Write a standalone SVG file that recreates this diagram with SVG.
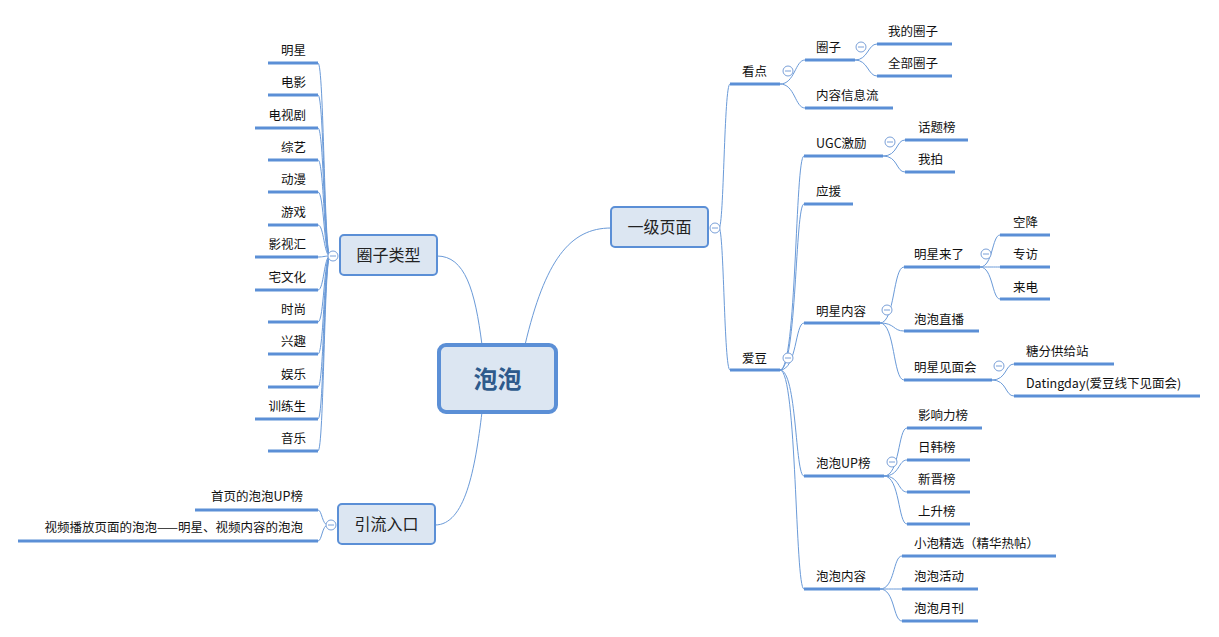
<svg xmlns="http://www.w3.org/2000/svg" width="1219" height="637" viewBox="0 0 1219 637">
<style>
text{font-family:"Microsoft YaHei","Noto Sans CJK SC",sans-serif;font-size:12.5px;fill:#111}
.ul{stroke:#5b8fd6;stroke-width:3;fill:none}
.c{stroke:#6a9ad8;stroke-width:1;fill:none}
.box{fill:#dce6f2;stroke:#5b8fd6;stroke-width:2}
.bt{font-size:16px;fill:#222;text-anchor:middle}
.col circle{fill:#fff;stroke:#7aa0d8;stroke-width:1}
.col line{stroke:#7aa0d8;stroke-width:1}
.r{text-anchor:end}
</style>
<rect width="1219" height="637" fill="#fff"/>
<g id="connectors">
<path class="c" d="M525,345 C545,260 570,228 611,228"/>
<path class="c" d="M482,345 C475,290 465,256 437,256"/>
<path class="c" d="M482,412 C475,470 465,525 435,525"/>
<path class="c" d="M330,256 C324,256 324,63 318,63 M330,256 C324,256 324,95 318,95 M330,256 C324,256 324,128 318,128 M330,256 C324,256 324,160 318,160 M330,256 C324,256 324,192 318,192 M330,256 C324,256 324,225 318,225 M330,256 C324,256 324,257 318,257 M330,256 C324,256 324,290 318,290 M330,256 C324,256 324,322 318,322 M330,256 C324,256 324,354 318,354 M330,256 C324,256 324,387 318,387 M330,256 C324,256 324,419 318,419 M330,256 C324,256 324,451 318,451"/>
<path class="c" d="M328,525 C322,525 322,510 318,510 M328,525 C322,525 322,541 318,541"/>
<path class="c" d="M719,228 C724,228 724,84 730,84 M719,228 C724,228 724,370 730,370"/>
<path class="c" d="M780,84 C795,84 795,60 805,60 M780,84 C795,84 795,108 805,108"/>
<path class="c" d="M855,60 C868,60 868,44 877,44 M855,60 C868,60 868,76 877,76"/>
<path class="c" d="M780,370 C797,370 795,156 804,156 M780,370 C797,370 795,204 804,204 M780,370 C797,370 795,323 804,323 M780,370 C797,370 795,476 804,476 M780,370 C797,370 795,589 804,589"/>
<path class="c" d="M883,156 C898,156 896,140 905,140 M883,156 C898,156 896,172 905,172"/>
<path class="c" d="M880,323 C895,323 893,267 904,267 M880,323 C895,323 893,331 904,331 M880,323 C895,323 893,380 904,380"/>
<path class="c" d="M980,267 C993,267 992,235 1000,235 M980,267 C993,267 992,267 1000,267 M980,267 C993,267 992,299 1000,299"/>
<path class="c" d="M992,380 C1007,380 1005,364 1014,364 M992,380 C1007,380 1005,396 1014,396"/>
<path class="c" d="M884,476 C900,476 898,428 907,428 M884,476 C900,476 898,460 907,460 M884,476 C900,476 898,492 907,492 M884,476 C900,476 898,524 907,524"/>
<path class="c" d="M880,589 C895,589 893,556 902,556 M880,589 C895,589 893,589 902,589 M880,589 C895,589 893,621 902,621"/>
</g>
<g id="center">
<rect x="439" y="345" width="117" height="67" rx="7" fill="#dce6f2" stroke="#5b8fd6" stroke-width="4"/>
<text x="497.5" y="388" style="font-size:24px;font-weight:bold;fill:#2e5a8c;text-anchor:middle">泡泡</text>
</g>
<g id="yiji"><rect class="box" x="611" y="207" width="97" height="40" rx="4"/><text class="bt" x="659.5" y="233">一级页面</text></g>
<g id="quanzileixing"><rect class="box" x="340" y="235" width="97" height="40" rx="4"/><text class="bt" x="388.5" y="261">圈子类型</text></g>
<g id="yinliu"><rect class="box" x="338" y="504" width="97" height="40" rx="4"/><text class="bt" x="386.5" y="530">引流入口</text></g>
<g class="col">
<circle cx="715" cy="228" r="5"/><line x1="712" y1="228" x2="718" y2="228"/>
<circle cx="333" cy="256" r="5"/><line x1="330" y1="256" x2="336" y2="256"/>
<circle cx="331" cy="525" r="5"/><line x1="328" y1="525" x2="334" y2="525"/>
<circle cx="788" cy="71" r="5"/><line x1="785" y1="71" x2="791" y2="71"/>
<circle cx="788" cy="358" r="5"/><line x1="785" y1="358" x2="791" y2="358"/>
<circle cx="861" cy="47" r="5"/><line x1="858" y1="47" x2="864" y2="47"/>
<circle cx="890" cy="142" r="5"/><line x1="887" y1="142" x2="893" y2="142"/>
<circle cx="887" cy="310" r="5"/><line x1="884" y1="310" x2="890" y2="310"/>
<circle cx="892" cy="462" r="5"/><line x1="889" y1="462" x2="895" y2="462"/>
<circle cx="986" cy="254" r="5"/><line x1="983" y1="254" x2="989" y2="254"/>
<circle cx="999" cy="366" r="5"/><line x1="996" y1="366" x2="1002" y2="366"/>
</g>
<g id="left-leaves">
<path class="ul" d="M268,63H318 M268,95H318 M255,128H318 M268,160H318 M268,192H318 M268,225H318 M255,257H318 M255,290H318 M268,322H318 M268,354H318 M268,387H318 M255,419H318 M268,451H318 M195,510H318 M18,541H318"/>
<text class="r" x="306" y="55">明星</text>
<text class="r" x="306" y="87">电影</text>
<text class="r" x="306" y="120">电视剧</text>
<text class="r" x="306" y="152">综艺</text>
<text class="r" x="306" y="184">动漫</text>
<text class="r" x="306" y="217">游戏</text>
<text class="r" x="306" y="249">影视汇</text>
<text class="r" x="306" y="282">宅文化</text>
<text class="r" x="306" y="314">时尚</text>
<text class="r" x="306" y="346">兴趣</text>
<text class="r" x="306" y="379">娱乐</text>
<text class="r" x="306" y="411">训练生</text>
<text class="r" x="306" y="443">音乐</text>
<text class="r" x="303" y="501">首页的泡泡UP榜</text>
<text class="r" x="303" y="532">视频播放页面的泡泡——明星、视频内容的泡泡</text>
</g>
<g id="right-leaves">
<path class="ul" d="M730,84H780 M730,370H780 M805,60H855 M805,108H893 M877,44H952 M877,76H952 M804,156H883 M804,204H853 M804,323H880 M804,476H884 M804,589H880 M905,140H968 M905,172H955 M904,267H980 M904,331H979 M904,380H992 M1000,235H1050 M1000,267H1050 M1000,299H1050 M1014,364H1114 M1014,396H1200 M907,428H982 M907,460H970 M907,492H970 M907,524H970 M902,556H1056 M902,589H978 M902,621H978"/>
<text x="742" y="76">看点</text>
<text x="742" y="363">爱豆</text>
<text x="816" y="52">圈子</text>
<text x="816" y="100">内容信息流</text>
<text x="888" y="36">我的圈子</text>
<text x="888" y="68">全部圈子</text>
<text x="816" y="148">UGC激励</text>
<text x="816" y="196">应援</text>
<text x="816" y="316">明星内容</text>
<text x="816" y="468">泡泡UP榜</text>
<text x="816" y="581">泡泡内容</text>
<text x="918" y="132">话题榜</text>
<text x="918" y="164">我拍</text>
<text x="914" y="259">明星来了</text>
<text x="914" y="324">泡泡直播</text>
<text x="914" y="372">明星见面会</text>
<text x="1013" y="227">空降</text>
<text x="1013" y="259">专访</text>
<text x="1013" y="292">来电</text>
<text x="1026" y="356">糖分供给站</text>
<text x="1026" y="388">Datingday(爱豆线下见面会)</text>
<text x="918" y="420">影响力榜</text>
<text x="918" y="452">日韩榜</text>
<text x="918" y="484">新晋榜</text>
<text x="918" y="516">上升榜</text>
<text x="914" y="548">小泡精选（精华热帖）</text>
<text x="914" y="581">泡泡活动</text>
<text x="914" y="613">泡泡月刊</text>
</g>
</svg>
